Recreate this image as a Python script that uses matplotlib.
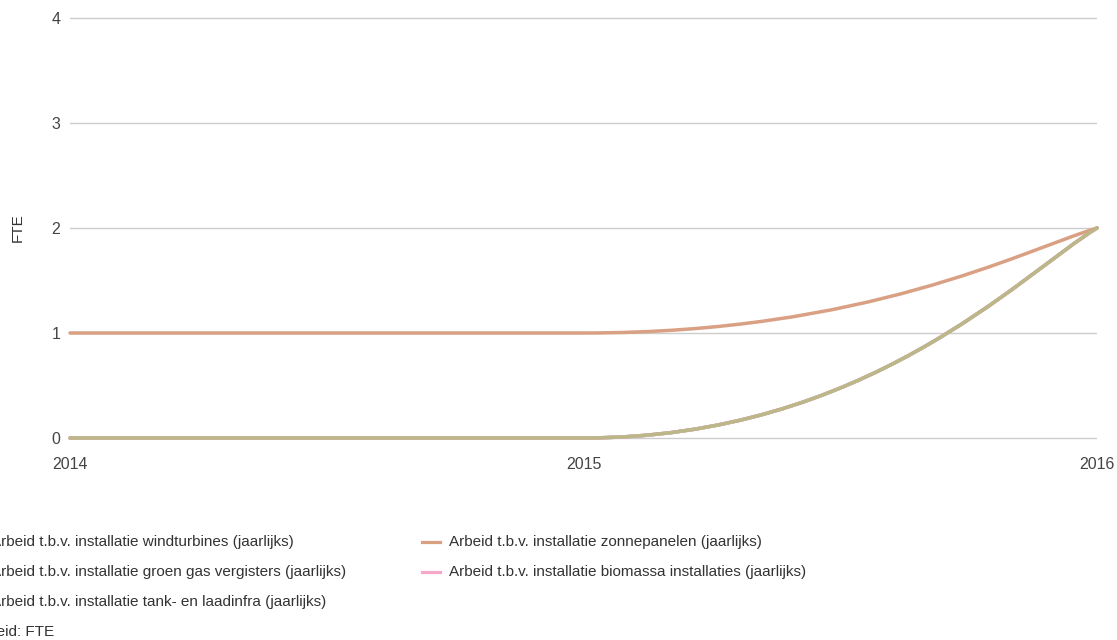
import matplotlib
import numpy as np
from matplotlib import pyplot as plt
from matplotlib.path import Path
from matplotlib.patches import PathPatch
from matplotlib.lines import Line2D

matplotlib.use("Agg")

# Data
years = [2014, 2015, 2016]
windturbines = [0, 0, 2]
zonnepanelen = [1, 1, 2]
groen_gas = [0, 0, 2]
biomassa = [0, 0, 2]
tank_laadinfra = [0, 0, 2]

labels = [
    "Arbeid t.b.v. installatie windturbines (jaarlijks)",
    "Arbeid t.b.v. installatie zonnepanelen (jaarlijks)",
    "Arbeid t.b.v. installatie groen gas vergisters (jaarlijks)",
    "Arbeid t.b.v. installatie biomassa installaties (jaarlijks)",
    "Arbeid t.b.v. installatie tank- en laadinfra (jaarlijks)",
]
colors = ["#9fb7c9", "#d9a084", "#e8a0b8", "#f7a8c9", "#bab886"]
y_ticks = [0, 1, 2, 3, 4]

W, H = 1117, 640
FONT = "Liberation Sans"
TEXT = "#444444"
PAD = 0.06  # value units of room around 0..4 so edge gridlines are not cut


def tangents(x, y):
    # monotone tangents, zero at flat parts
    x = np.asarray(x, float)
    y = np.asarray(y, float)
    n = len(x)
    d = np.diff(y) / np.diff(x)
    m = np.zeros(n)
    for i in range(1, n - 1):
        if d[i - 1] * d[i] > 0:
            m[i] = 2 / (1 / d[i - 1] + 1 / d[i])
    m[0] = (3 * d[0] - m[1]) / 2
    m[-1] = (3 * d[-1] - m[-2]) / 2
    return m


def smooth_path(x, y, a=0.55, b=0.15):
    m = tangents(x, y)
    verts = [(x[0], y[0])]
    codes = [Path.MOVETO]
    for i in range(len(x) - 1):
        h = x[i + 1] - x[i]
        verts += [(x[i] + a * h, y[i] + a * h * m[i]),
                  (x[i + 1] - b * h, y[i + 1] - b * h * m[i + 1]),
                  (x[i + 1], y[i + 1])]
        codes += [Path.CURVE4] * 3
    return Path(verts, codes)


px = 105 * PAD
fig = plt.figure(figsize=(W / 100, H / 100), dpi=100)
ax = fig.add_axes([70 / W, (H - 438 - px) / H, 1027 / W, (420 + 2 * px) / H])

series = [windturbines, zonnepanelen, groen_gas, biomassa, tank_laadinfra]
order = [0, 2, 3, 1, 4]
for k in order:
    patch = PathPatch(smooth_path(years, series[k]), facecolor="none",
                      edgecolor=colors[k], lw=2.5, clip_on=False, zorder=3,
                      capstyle="round")
    ax.add_patch(patch)

ax.set_xlim(2014, 2016)
ax.set_ylim(-PAD, 4 + PAD)
ax.set_xticks(years)
ax.set_xticklabels([str(v) for v in years])
ax.set_yticks(y_ticks)
ax.grid(axis="y", color="#cccccc", lw=1)
ax.set_axisbelow(True)
for s in ax.spines.values():
    s.set_visible(False)
ax.tick_params(axis="both", length=0, colors=TEXT, labelsize=11.5)
ax.tick_params(axis="x", pad=9)
ax.tick_params(axis="y", pad=7)
for t in ax.get_xticklabels() + ax.get_yticklabels():
    t.set_fontfamily(FONT)
ax.set_ylabel("FTE", fontfamily=FONT, fontsize=11, color="#333333", labelpad=19)

# Legend, two columns, left one cut off by the figure edge
rows = [542, 572, 602]
col_x = [-36, 422]
grid = [(0, 0), (1, 0), (0, 1), (1, 1), (0, 2)]
for k, (c, r) in enumerate(grid):
    yy = 1 - rows[r] / H
    fig.add_artist(Line2D([col_x[c] / W, (col_x[c] + 18) / W], [yy, yy],
                          color=colors[k], lw=2.3))
    fig.text((col_x[c] + 27) / W, yy, labels[k], fontfamily=FONT,
             fontsize=11, color="#333333", va="center", ha="left")
fig.text(-27 / W, 1 - 632 / H, "Arbeid: FTE", fontfamily=FONT, fontsize=11,
         color="#333333", va="center", ha="left")

fig.savefig("out.png", dpi=100)
